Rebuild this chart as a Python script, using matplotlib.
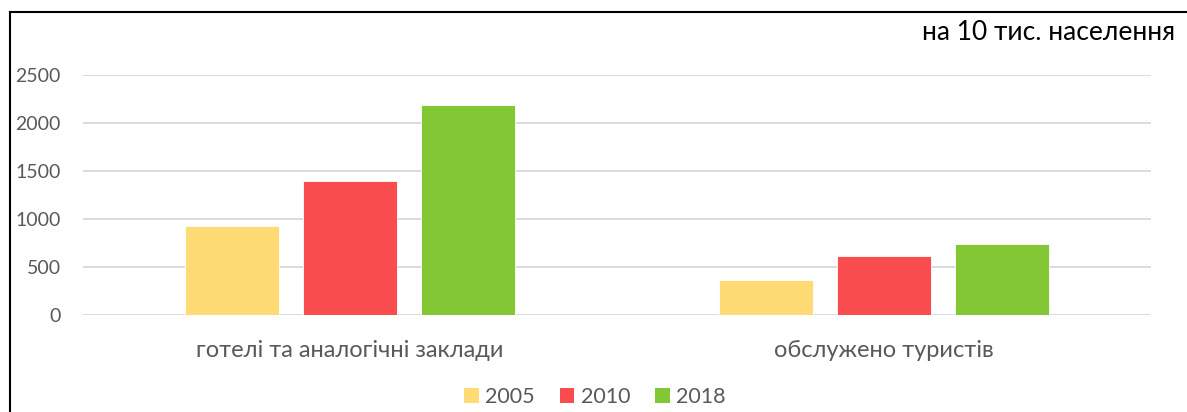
import matplotlib.pyplot as plt
import numpy as np
from matplotlib.lines import Line2D
from matplotlib.patches import Patch

plt.rcParams['font.family'] = ['Lato', 'DejaVu Sans']

categories = ['готелі та аналогічні заклади', 'обслужено туристів']
years = ['2005', '2010', '2018']
v2005 = [930, 360]
v2010 = [1400, 610]
v2018 = [2185, 740]
colors = ['#FFDB76', '#F94C4E', '#84C735']

fig = plt.figure(figsize=(11.87, 4.12), dpi=100)
ax = fig.add_axes([83/1187, 1-315/412, 1068/1187, 240/412])

x = np.arange(len(categories))
w = 0.175
step = 0.221
for i, (vals, c) in enumerate(zip([v2005, v2010, v2018], colors)):
    ax.bar(x + (i-1)*step, vals, w, color=c, edgecolor='white', linewidth=0.6, zorder=3, label=years[i])

ax.set_xlim(-0.5, 1.5)
ax.set_ylim(0, 2500)
ax.set_yticks(range(0, 2501, 500))
ax.yaxis.grid(True, color='#d9d9d9', linewidth=1.3, zorder=0)
for s in ax.spines.values():
    s.set_visible(False)
ax.tick_params(axis='y', length=0, pad=16, labelsize=14, labelcolor='#595959')
ax.tick_params(axis='x', length=0, pad=18, labelsize=17, labelcolor='#595959')
ax.set_xticks(x)
ax.set_xticklabels(categories)

fig.text(1175/1187, 1-32/412, 'на 10 тис. населення', ha='right', va='center', fontsize=19, color='black')

handles = [Patch(facecolor=c, label=y) for c, y in zip(colors, years)]
leg = fig.legend(handles=handles, loc='center', bbox_to_anchor=(595/1187, 1-397/412), ncol=3, frameon=False,
                 fontsize=15.5, handlelength=0.68, handleheight=0.68, handletextpad=0.3, columnspacing=1.15)
for t in leg.get_texts():
    t.set_color('#595959')

# border of the screenshot
fig.add_artist(Line2D([10/1187, 1], [1-12/412, 1-12/412], color='black', linewidth=1.5))
fig.add_artist(Line2D([10/1187, 10/1187], [0, 1-12/412], color='black', linewidth=1.5))

fig.savefig('out.png', dpi=100)
